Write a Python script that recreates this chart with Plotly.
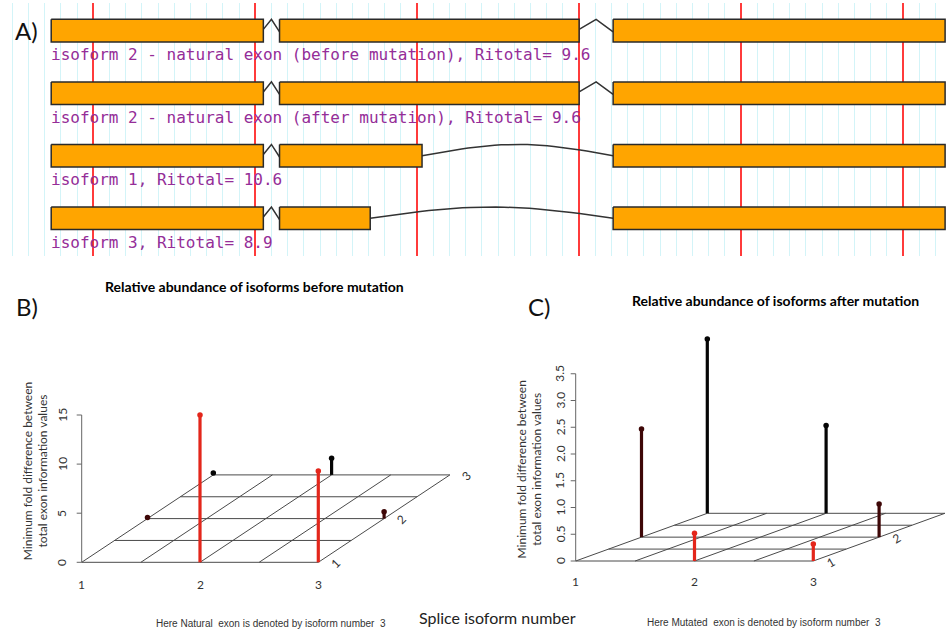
import numpy as np
import plotly.graph_objects as go

# ---------------- data ----------------
# Panel A: exon structure of the isoforms (genomic units, guide lines every 100 units)
isoform_labels = [
    "isoform 2 - natural exon (before mutation), Ritotal= 9.6",
    "isoform 2 - natural exon (after mutation), Ritotal= 9.6",
    "isoform 1, Ritotal= 10.6",
    "isoform 3, Ritotal= 8.9",
]
exon1_start = [24, 24, 24, 24]
exon1_end = [155, 155, 155, 155]
exon2_start = [165, 165, 165, 165]
exon2_end = [350, 350, 253, 221]
exon3_start = [371, 371, 371, 371]
exon3_end = [576, 576, 576, 576]

# Panel B: before mutation
isoform_b = [2, 3, 1, 3, 1, 2]
depth_b = [1, 1, 2, 2, 3, 3]
fold_b = [15.0, 9.3, 0.1, 0.7, 0.2, 1.7]
ztick_b = [0, 5, 10, 15]
ztick_b_labels = ["0", "5", "10", "15"]
depth_ticks_b = [1, 2, 3]

# Panel C: after mutation
isoform_c = [2, 3, 1, 3, 1, 2]
depth_c = [1, 1, 2, 2, 3, 3]
fold_c = [0.52, 0.32, 2.02, 0.62, 3.26, 1.64]
ztick_c = [0, 0.5, 1.0, 1.5, 2.0, 2.5, 3.0, 3.5]
ztick_c_labels = ["0", "0.5", "1.0", "1.5", "2.0", "2.5", "3.0", "3.5"]
depth_ticks_c = [1, 2]

x_ticks = [1, 2, 3]
x_tick_labels = ["1", "2", "3"]
floor_grid = [1, 1.5, 2, 2.5, 3]

# ---------------- layout helpers ----------------
W, H = 951, 633


def fx(px):
    return px / W


def fy(py):
    return 1 - py / H


fig = go.Figure()
annotations = []

# ---------------- Panel A ----------------
A_ORIGIN, A_SCALE = 12.33, 1.6194   # pixel of unit 0, pixels per unit
ROW0, ROW_STEP = 30.65, 62.55
A_TOP, A_BOT = 3, 255.5
HALF = 11.3 / ROW_STEP
LABEL_OFF = 23.8 / ROW_STEP

for i in range(len(isoform_labels)):
    r = i + 1
    starts = [exon1_start[i], exon2_start[i], exon3_start[i]]
    ends = [exon1_end[i], exon2_end[i], exon3_end[i]]
    # introns
    ix, iy = [], []
    for k in range(len(starts) - 1):
        e, s = ends[k], starts[k + 1]
        if s - e < 30:
            ix += [e, (e + s) / 2, s, None]
            iy += [r - 0.02, r - HALF, r + 0.02, None]
        else:
            t = np.linspace(0, 1, 30)
            ix += list(e + (s - e) * t) + [None]
            iy += list(r - HALF * np.sin(np.pi * t)) + [None]
    fig.add_trace(go.Scatter(x=ix, y=iy, mode="lines", line=dict(color="#333333", width=1.5),
                             xaxis="x", yaxis="y", hoverinfo="skip"))
    ex, ey = [], []
    for s, e in zip(starts, ends):
        ex += [s, e, e, s, s, None]
        ey += [r - HALF, r - HALF, r + HALF, r + HALF, r - HALF, None]
    fig.add_trace(go.Scatter(x=ex, y=ey, mode="lines", fill="toself", fillcolor="#FFA500",
                             line=dict(color="#2a2a2a", width=1.5),
                             xaxis="x", yaxis="y", hoverinfo="skip"))
    annotations.append(dict(x=exon1_start[i], y=r + LABEL_OFF, xref="x", yref="y",
                            text=isoform_labels[i], showarrow=False, xanchor="left",
                            yanchor="middle", xshift=-2,
                            font=dict(family="DejaVu Sans Mono", size=16, color="#952D98")))

# ---------------- Panels B and C (oblique 3D projection) ----------------
PB = dict(xa="x2", ya="y2", px0=0, px1=475, py0=262, py1=633, ox=81.7, oy=562.3,
          sx=118.3, sz=9.82, kx=65.8, ky=43.7, zlab=20, xlab=22, dang=-45)
PC = dict(xa="x3", ya="y3", px0=476, px1=951, py0=262, py1=633, ox=575.7, oy=561,
          sx=118.8, sz=53.5, kx=65.8, ky=23.85, zlab=15.7, xlab=20.7, dang=-30)

depth_colors = {1: "#E3261B", 2: "#3E0707", 3: "#050505"}


def proj(P, x, d, z):
    return x + (d - 1) * P["kx"] / P["sx"], z + (d - 1) * P["ky"] / P["sz"]


def draw_panel(P, xs, ds, zs, zt, ztl, dticks):
    xa, ya = P["xa"], P["ya"]
    # floor grid
    gx, gy = [], []
    for d in floor_grid:
        a = proj(P, floor_grid[0], d, 0)
        b = proj(P, floor_grid[-1], d, 0)
        gx += [a[0], b[0], None]
        gy += [a[1], b[1], None]
    for x in floor_grid:
        a = proj(P, x, floor_grid[0], 0)
        b = proj(P, x, floor_grid[-1], 0)
        gx += [a[0], b[0], None]
        gy += [a[1], b[1], None]
    fig.add_trace(go.Scatter(x=gx, y=gy, mode="lines", line=dict(color="#4a4a4a", width=1),
                             xaxis=xa, yaxis=ya, hoverinfo="skip"))
    # vertical axis with ticks
    ax_x, ax_y = [1, 1, None], [zt[0], zt[-1], None]
    for t in zt:
        ax_x += [1, 1 - 5 / P["sx"], None]
        ax_y += [t, t, None]
    fig.add_trace(go.Scatter(x=ax_x, y=ax_y, mode="lines", line=dict(color="#666666", width=1),
                             xaxis=xa, yaxis=ya, hoverinfo="skip"))
    for t, lab in zip(zt, ztl):
        annotations.append(dict(x=1, y=t, xref=xa, yref=ya, text=lab, showarrow=False,
                                xshift=-P["zlab"], textangle=-90,
                                font=dict(family="Lato", size=12, color="#333333")))
    for t, lab in zip(x_ticks, x_tick_labels):
        annotations.append(dict(x=t, y=0, xref=xa, yref=ya, text=lab, showarrow=False,
                                yshift=-P["xlab"],
                                font=dict(family="Lato", size=12, color="#333333")))
    for d in dticks:
        px_, py_ = proj(P, floor_grid[-1], d, 0)
        annotations.append(dict(x=px_, y=py_, xref=xa, yref=ya, text=str(d), showarrow=False,
                                xshift=17, yshift=-1, textangle=P["dang"],
                                font=dict(family="Lato", size=12, color="#333333")))
    # stems
    for x, d, z in zip(xs, ds, zs):
        b0 = proj(P, x, d, 0)
        b1 = proj(P, x, d, z)
        c = depth_colors[d]
        fig.add_trace(go.Scatter(x=[b0[0], b1[0]], y=[b0[1], b1[1]], mode="lines",
                                 line=dict(color=c, width=3.2), xaxis=xa, yaxis=ya,
                                 hoverinfo="skip"))
        fig.add_trace(go.Scatter(x=[b1[0]], y=[b1[1]], mode="markers",
                                 marker=dict(color=c, size=5.5), xaxis=xa, yaxis=ya,
                                 hoverinfo="skip"))


def panel_axes(P):
    xr = [1 + (P["px0"] - P["ox"]) / P["sx"], 1 + (P["px1"] - P["ox"]) / P["sx"]]
    yr = [-(P["py1"] - P["oy"]) / P["sz"], (P["oy"] - P["py0"]) / P["sz"]]
    xd = [fx(P["px0"]), fx(P["px1"])]
    yd = [fy(P["py1"]), fy(P["py0"])]
    return (dict(domain=xd, range=xr, visible=False, fixedrange=True, anchor=P["ya"]),
            dict(domain=yd, range=yr, visible=False, fixedrange=True, anchor=P["xa"]))


draw_panel(PB, isoform_b, depth_b, fold_b, ztick_b, ztick_b_labels, depth_ticks_b)
draw_panel(PC, isoform_c, depth_c, fold_c, ztick_c, ztick_c_labels, depth_ticks_c)
xb, yb = panel_axes(PB)
xc, yc = panel_axes(PC)

# ---------------- text ----------------
def paper_text(px, py, text, size, family="Lato", color="#000000", bold=False, angle=0):
    if bold:
        text = "<b>" + text + "</b>"
    annotations.append(dict(x=fx(px), y=fy(py), xref="paper", yref="paper", text=text,
                            showarrow=False, textangle=angle, xanchor="center",
                            yanchor="middle", font=dict(family=family, size=size, color=color)))


paper_text(26.5, 30, "A)", 24, color="#111111")
paper_text(26.5, 306, "B)", 24, color="#111111")
paper_text(538.7, 307, "C)", 24, color="#111111")
paper_text(254, 286.7, "Relative abundance of isoforms before mutation", 14, bold=True)
paper_text(775.8, 300.7, "Relative abundance of isoforms after mutation", 14, bold=True)
ytitle = "Minimum fold difference between<br>total exon information values"
paper_text(35.5, 471.7, ytitle, 12, color="#333333", angle=-90)
paper_text(528.5, 470, ytitle, 12, color="#333333", angle=-90)
paper_text(498, 617.7, "Splice isoform number", 16, color="#222222")
paper_text(270.7, 623.3, "Here Natural  exon is denoted by isoform number  3", 10,
           family="Liberation Sans", color="#333333")
paper_text(764, 622.7, "Here Mutated  exon is denoted by isoform number  3", 10,
           family="Liberation Sans", color="#333333")

fig.update_layout(
    width=W, height=H, margin=dict(l=0, r=0, t=0, b=0),
    paper_bgcolor="white", plot_bgcolor="rgba(0,0,0,0)", showlegend=False,
    xaxis=dict(domain=[0, 1], range=[(0 - A_ORIGIN) / A_SCALE, (W - A_ORIGIN) / A_SCALE],
               anchor="y", showgrid=True, tick0=50, dtick=100, gridcolor="#FF3B3B",
               gridwidth=2, showticklabels=False, ticks="", zeroline=False, showline=False,
               fixedrange=True,
               minor=dict(tick0=0, dtick=10, showgrid=True, gridcolor="#D3F4F8", gridwidth=1)),
    yaxis=dict(domain=[fy(A_BOT), fy(A_TOP)],
               range=[1 + (A_BOT - ROW0) / ROW_STEP, 1 + (A_TOP - ROW0) / ROW_STEP],
               anchor="x", visible=False, fixedrange=True),
    xaxis2=xb, yaxis2=yb, xaxis3=xc, yaxis3=yc,
    annotations=annotations,
)

fig.write_html("out.html", config={"displayModeBar": False},
               post_script="document.body.style.margin='0';")
